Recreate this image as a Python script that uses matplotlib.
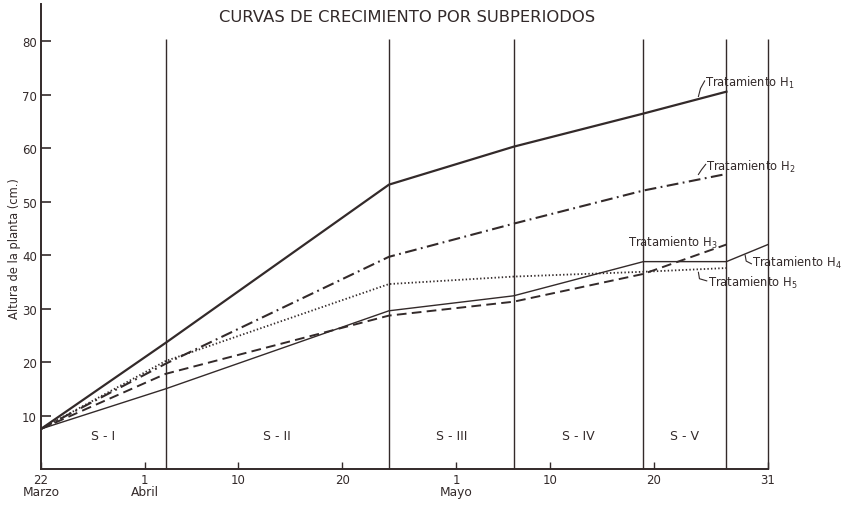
import matplotlib
matplotlib.use("Agg")
import matplotlib.pyplot as plt

INK = "#332a2a"

# days counted from 22 March; subperiod limits S-I .. S-V
bounds = [0, 12, 33.5, 45.5, 58, 66]
period_names = ["S - I", "S - II", "S - III", "S - IV", "S - V"]

# plant height (cm) at the end of each subperiod
h1 = [7.5, 23.6, 53.2, 60.3, 66.5, 70.6]
h2 = [7.5, 19.7, 39.7, 45.9, 52.1, 55.2]
h3 = [7.5, 17.8, 28.7, 31.3, 36.5, 42.0]
h4 = [7.5, 15.0, 29.6, 32.4, 38.8, 38.8, 42.0]
h5 = [7.5, 20.2, 34.6, 36.0, 36.9, 37.6]
days_h4 = bounds + [70]

tick_days = [0, 10, 19, 29, 40, 49, 59, 70]
tick_text = ["22", "1", "10", "20", "1", "10", "20", "31"]
month_days = [0, 10, 40]
month_names = ["Marzo", "Abril", "Mayo"]
y_ticks = [10, 20, 30, 40, 50, 60, 70, 80]

plt.rcParams["lines.scale_dashes"] = False
plt.rcParams["font.family"] = "DejaVu Sans"

fig = plt.figure(figsize=(8.55, 5.06), dpi=100)
fig.patch.set_facecolor("white")
ax = fig.add_axes([41 / 855, 36 / 506, 727 / 855, 465 / 506])
ax.set_xlim(0, 70)
ax.set_ylim(0, 87)
for s in ("top", "right"):
    ax.spines[s].set_visible(False)
for s in ("left", "bottom"):
    ax.spines[s].set_color(INK)
    ax.spines[s].set_linewidth(1.4)

# subperiod separators
for b in bounds[1:] + [70]:
    ax.plot([b, b], [0, 80.5], color=INK, lw=1.0, solid_capstyle="butt",
            clip_on=False)

ax.plot(bounds, h1, color=INK, lw=1.6)
ax.plot(bounds, h2, color=INK, lw=1.5, ls=(0, (8.5, 3.2, 1.3, 3.2)))
ax.plot(bounds, h3, color=INK, lw=1.4, ls=(0, (7, 3.8)))
ax.plot(days_h4, h4, color=INK, lw=1.0, clip_on=False)
ax.plot(bounds, h5, color=INK, lw=1.3, ls=(0, (1.0, 1.6)))

for i, name in enumerate(period_names):
    ax.text((bounds[i] + bounds[i + 1]) / 2, 6.2, name, ha="center", va="center",
            fontsize=9, color=INK)

# curve labels and their short leader strokes
lab = dict(fontsize=8.3, color=INK, va="center")
ax.text(63.9, 72.4, "Tratamiento H$_1$", ha="left", **lab)
ax.plot([63.9, 63.5, 63.3], [72.6, 71.2, 69.7], color=INK, lw=0.8, clip_on=False)
ax.text(64.0, 56.7, "Tratamiento H$_2$", ha="left", **lab)
ax.plot([64.0, 63.6, 63.3], [57.0, 56.0, 55.1], color=INK, lw=0.8, clip_on=False)
ax.text(65.1, 42.4, "Tratamiento H$_3$", ha="right", **lab)
ax.text(68.5, 38.7, "Tratamiento H$_4$", ha="left", **lab)
ax.plot([67.8, 67.9, 68.4], [40.0, 38.9, 38.4], color=INK, lw=0.8, clip_on=False)
ax.text(64.2, 35.0, "Tratamiento H$_5$", ha="left", **lab)
ax.plot([63.3, 63.4, 64.1], [36.8, 35.6, 35.2], color=INK, lw=0.8, clip_on=False)

ax.set_yticks(y_ticks)
ax.set_xticks(tick_days)
ax.set_xticklabels(tick_text)
ax.tick_params(axis="y", direction="in", length=7, width=1.2, colors=INK,
               labelsize=8.5, pad=3)
ax.tick_params(axis="x", direction="in", length=5, width=1.0, colors=INK,
               labelsize=8.5, pad=3)
for d, m in zip(month_days, month_names):
    ax.text(d, -4.3, m, ha="center", va="center", fontsize=8.8, color=INK,
            clip_on=False)

ax.set_ylabel("Altura de la planta (cm.)", fontsize=8.3, color=INK)
ax.yaxis.set_label_coords(-0.027, 0.477)

fig.text(407 / 855, 1 - 18 / 506, "CURVAS DE CRECIMIENTO POR SUBPERIODOS",
         ha="center", va="center", fontsize=11.8, color=INK)

fig.savefig("out.png", dpi=100, facecolor="white")
